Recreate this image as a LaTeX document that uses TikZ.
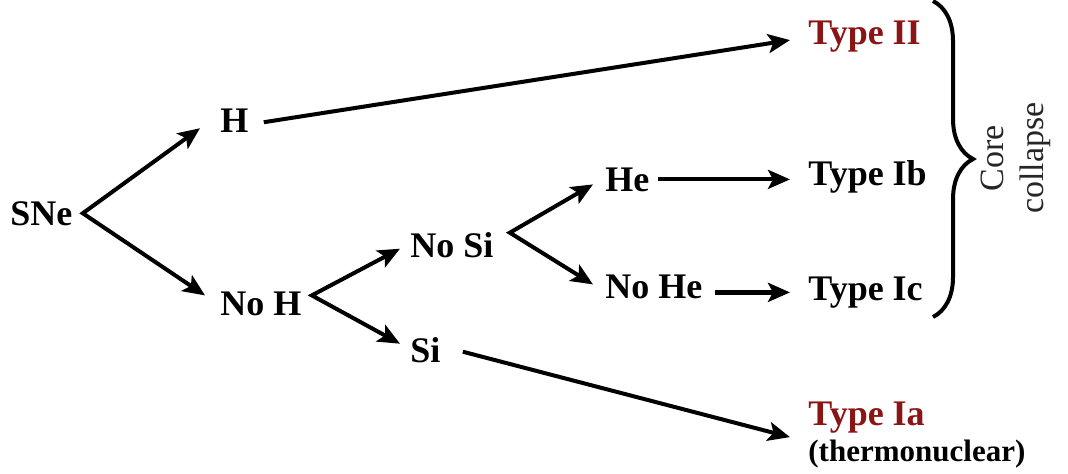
\documentclass[tikz,border=0pt]{standalone}
\usepackage{fontspec}
\setmainfont{Liberation Serif}
\usetikzlibrary{arrows.meta,calc,decorations.pathreplacing}
\definecolor{typered}{HTML}{8B1414}
\tikzset{
  lbl/.style={anchor=base west,inner sep=0pt,font=\fontsize{18}{20}\selectfont\bfseries},
  typ/.style={lbl,text=typered},
  arr/.style={line width=2pt,line cap=butt,-{Stealth[length=11pt,width=9.5pt,inset=2.5pt]}},
  fork/.style={line width=2pt,line cap=butt,line join=miter,
    {Stealth[length=11pt,width=9.5pt,inset=2.5pt]}-{Stealth[length=11pt,width=9.5pt,inset=2.5pt]}},
}
\begin{document}
\begin{tikzpicture}[x=0.5pt,y=-0.5pt]
\useasboundingbox (0,0) rectangle (1068,473);
% nodes
\node[lbl] (sne) at (10,225) {SNe};
\node[lbl] (h) at (220,132) {H};
\node[lbl] (noh) at (220,315) {No H};
\node[lbl] (nosi) at (410,257) {No Si};
\node[lbl] (si) at (410,362) {Si};
\node[lbl] (he) at (605,191) {He};
\node[lbl] (nohe) at (605,298) {No He};
\node[typ] (t2) at (808,44) {Type II};
\node[lbl] (tib) at (808,185) {Type Ib};
\node[lbl] (tic) at (808,300) {Type Ic};
\node[typ] (tia) at (808,425) {Type Ia};
\node[lbl,font=\fontsize{15.5}{17}\selectfont\bfseries] (thermo) at (808,461) {(thermonuclear)};
\node[rotate=90,align=center,inner sep=0pt,text=black!85,
      font=\fontsize{17}{20}\selectfont] (cc) at (1016,158) {Core\\collapse};
% branch points
\coordinate (b1) at ($(sne.east)+(10,0)$);
\coordinate (b2) at ($(noh.east)+(10,-8)$);
\coordinate (b3) at ($(nosi.east)+(16,-12)$);
% connectors
\draw[fork] ($(h.west)+(-20,8)$) -- (b1) -- ($(noh.west)+(-15,-8)$);
\draw[arr] ($(h.east)+(15,2)$) -- ($(t2.west)+(-18,4)$);
\draw[fork] ($(nosi.west)+(-10,4)$) -- (b2) -- ($(si.west)+(-10,-6)$);
\draw[fork] ($(he.west)+(-12,5)$) -- (b3) -- ($(nohe.west)+(-12,-2)$);
\draw[arr] ($(he.east)+(8,0)$) -- ($(he.east -| tib.west)+(-18,0)$);
\draw[arr,line width=2.6pt] ($(nohe.east)+(12,6)$) -- ($(nohe.east -| tic.west)+(-18,6)$);
\draw[arr] ($(si.east)+(22,2)$) -- ($(tia.west)+(-18,20)$);
% brace
\draw[line width=2pt,decorate,decoration={brace,amplitude=20pt}] (933,1) -- (933,317) coordinate (brb);
\end{tikzpicture}
\end{document}
